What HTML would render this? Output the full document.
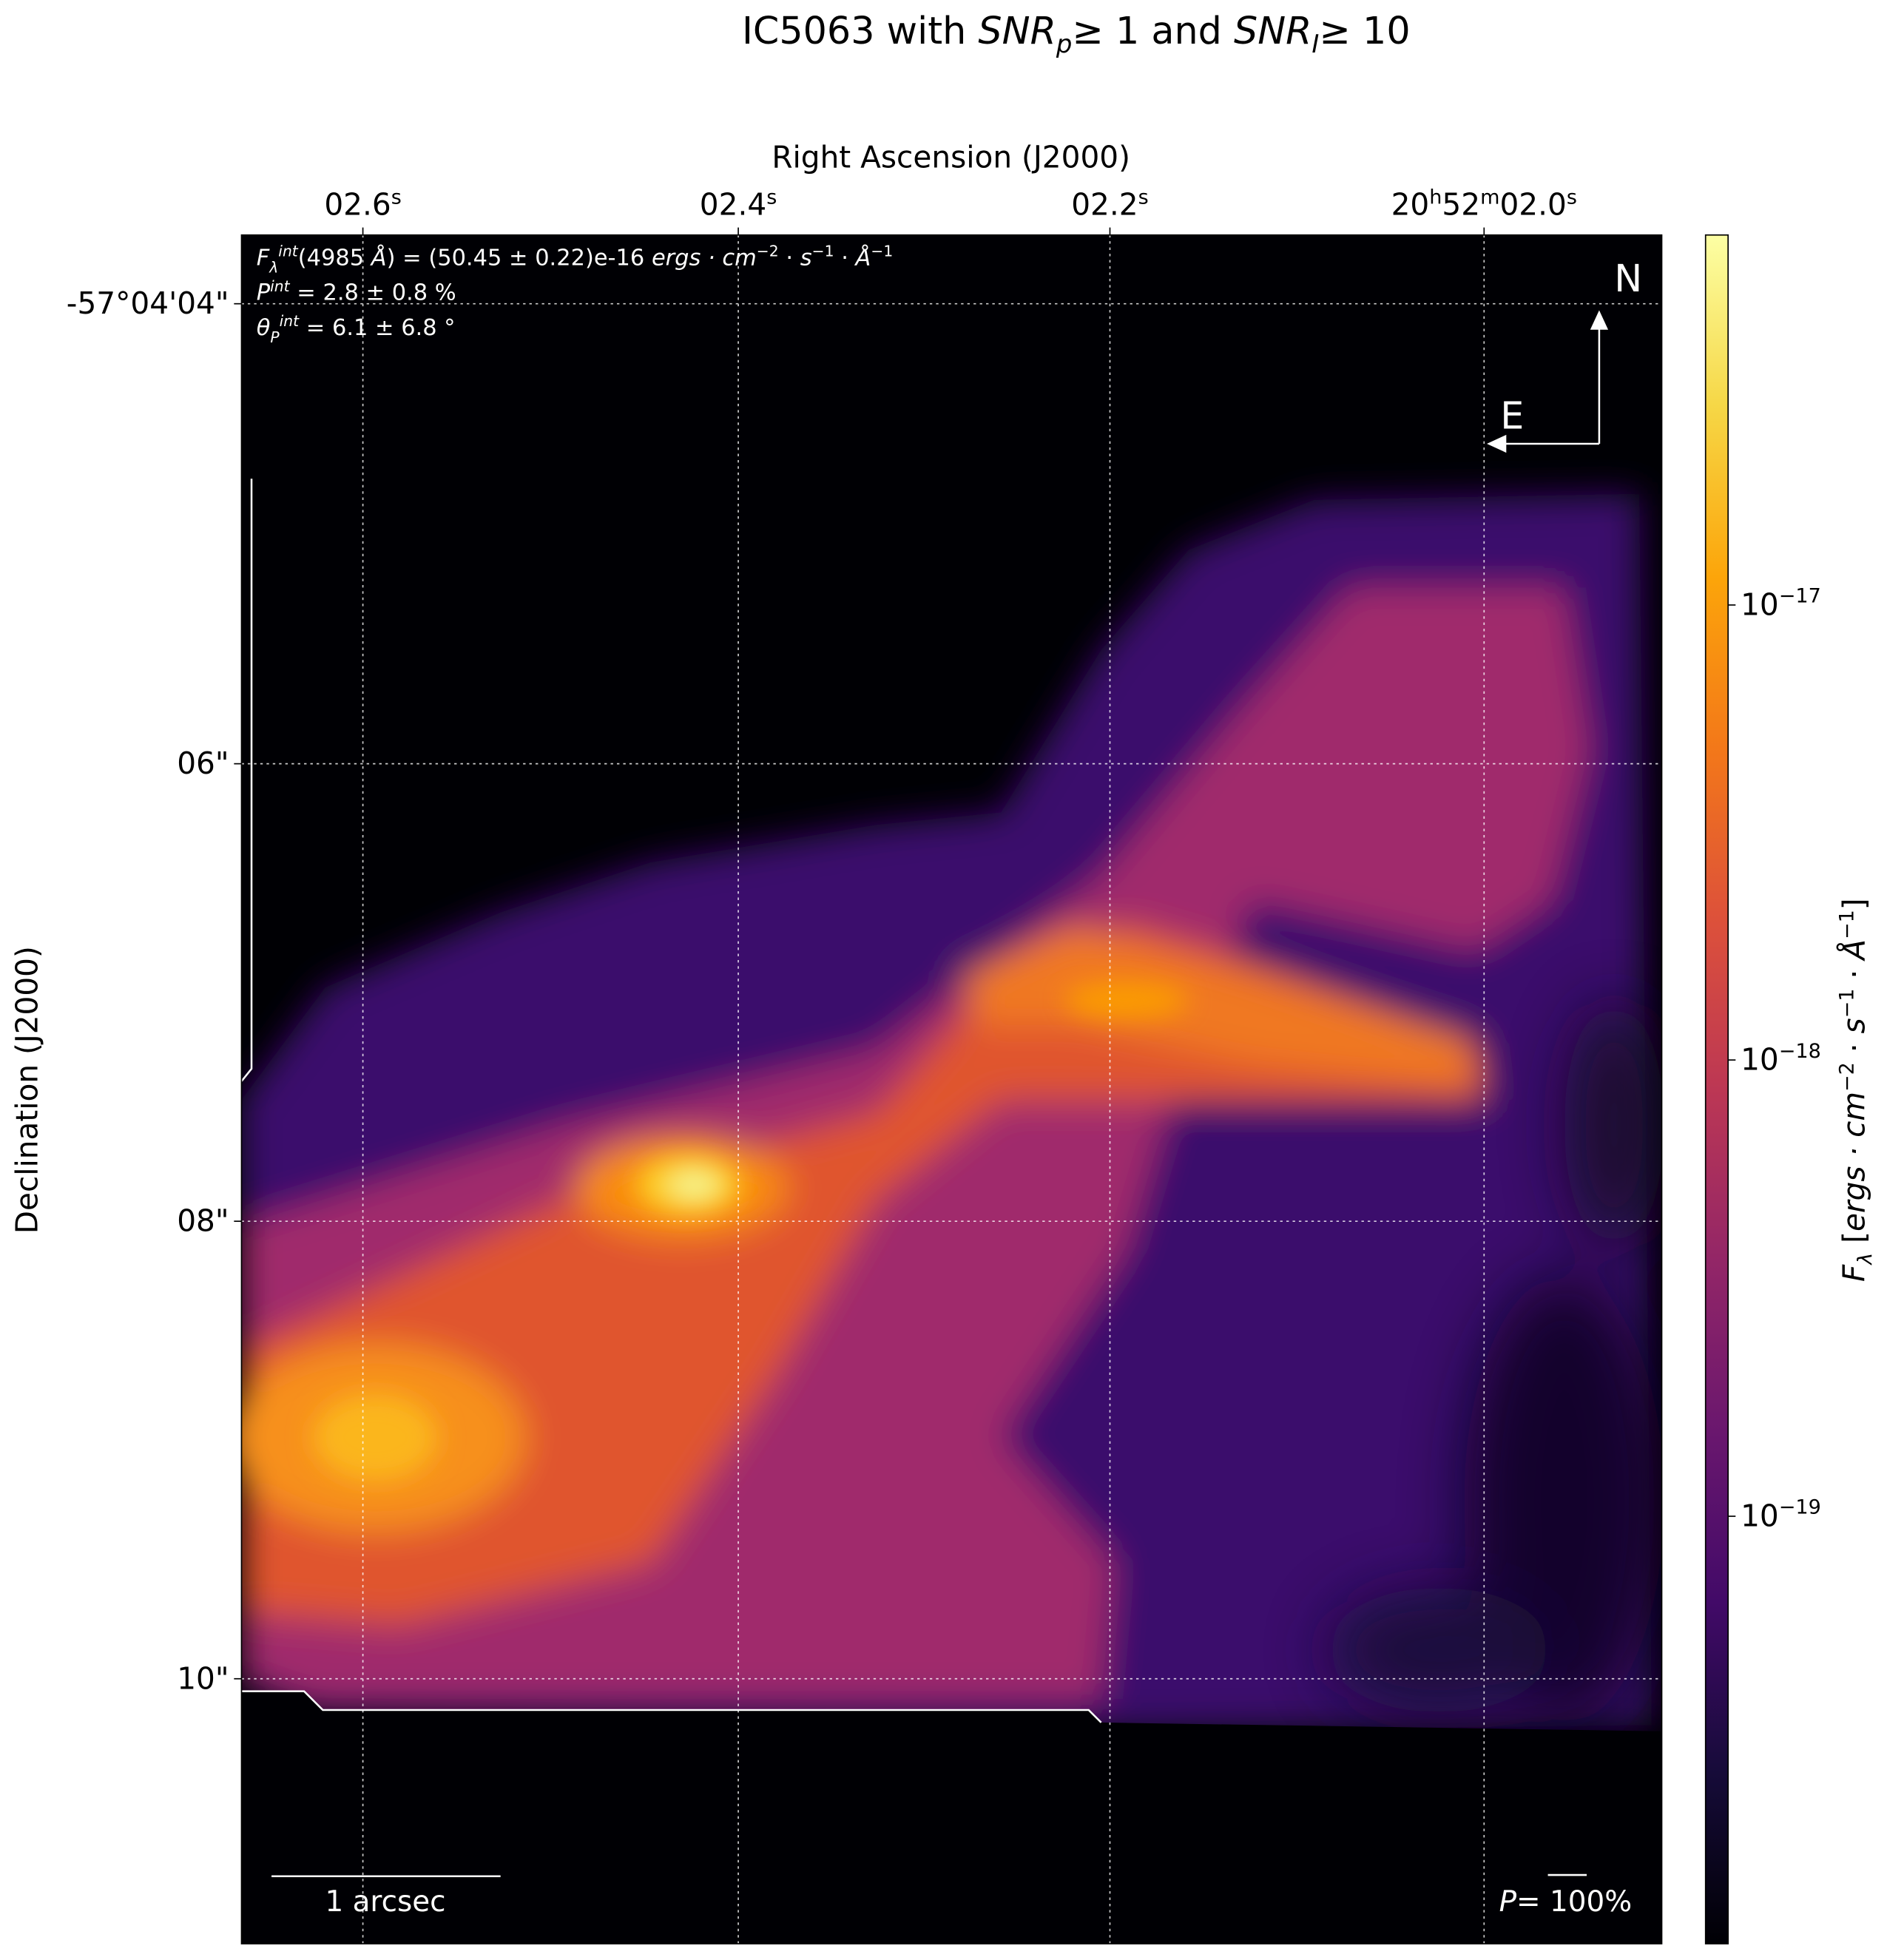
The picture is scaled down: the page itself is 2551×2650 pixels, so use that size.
<!DOCTYPE html>
<html><head><meta charset="utf-8"><style>
html,body{margin:0;padding:0;background:#fff;}
svg{display:block;font-family:"DejaVu Sans","Liberation Sans",sans-serif;}
</style></head><body>
<svg width="2551" height="2650" viewBox="0 0 1508 1568" preserveAspectRatio="none" xmlns="http://www.w3.org/2000/svg">
<defs>
<linearGradient id="inf" x1="0" y1="1" x2="0" y2="0">
<stop offset="0" stop-color="#000004"/><stop offset="0.1" stop-color="#160b39"/><stop offset="0.2" stop-color="#420a68"/><stop offset="0.3" stop-color="#6a176e"/><stop offset="0.4" stop-color="#932667"/><stop offset="0.5" stop-color="#bc3754"/><stop offset="0.6" stop-color="#dd513a"/><stop offset="0.7" stop-color="#f37819"/><stop offset="0.8" stop-color="#fca50a"/><stop offset="0.9" stop-color="#f6d746"/><stop offset="1" stop-color="#fcffa4"/>
</linearGradient>
<filter id="b1" x="-20%" y="-20%" width="140%" height="140%"><feGaussianBlur stdDeviation="14"/></filter>
<filter id="b2" x="-50%" y="-50%" width="200%" height="200%"><feGaussianBlur stdDeviation="10"/></filter>
<filter id="b3" x="-50%" y="-50%" width="200%" height="200%"><feGaussianBlur stdDeviation="25"/></filter>
<clipPath id="cp"><rect x="193" y="188" width="1135" height="1367"/></clipPath>
</defs>
<rect x="193" y="188" width="1135" height="1367" fill="#000004"/>
<g clip-path="url(#cp)">
<g filter="url(#b1)">
<polygon fill="#3a0f6c" points="193,880 260,790 400,730 520,690 700,660 800,650 880,520 950,440 1050,400 1310,395 1320,1380 880,1385 250,1372 193,1350"/>
<polygon fill="#a02c6c" points="193,980 450,900 700,840 880,700 990,570 1080,470 1250,470 1270,600 1240,720 1180,760 1000,720 930,900 900,1000 800,1150 890,1250 880,1360 250,1360 193,1340"/>
<polygon fill="#e0552f" points="193,1080 450,960 700,890 780,800 900,740 1000,770 1180,835 1185,880 1000,880 800,880 700,960 620,1100 520,1250 320,1300 193,1290"/>
<polygon fill="#f07820" points="770,780 860,740 1000,780 1170,830 1180,870 1000,850 860,820 780,820"/>
<ellipse cx="300" cy="1150" rx="120" ry="75" fill="#f7901a"/>
<ellipse cx="545" cy="950" rx="85" ry="40" fill="#f98c0a"/>
</g>
<g filter="url(#b3)" opacity="0.85">
<ellipse cx="1250" cy="1200" rx="80" ry="180" fill="#0a0520"/>
<ellipse cx="1290" cy="900" rx="40" ry="100" fill="#120828"/>
<ellipse cx="1150" cy="1320" rx="90" ry="50" fill="#150a35"/>
</g>
<g filter="url(#b2)">
<ellipse cx="300" cy="1150" rx="50" ry="35" fill="#fbb61a"/>
<ellipse cx="550" cy="948" rx="42" ry="24" fill="#fcce25"/>
<ellipse cx="555" cy="948" rx="20" ry="12" fill="#f6f38a"/>
<ellipse cx="900" cy="800" rx="50" ry="15" fill="#fb9b06"/>
</g>
</g>
<polygon fill="#000004" points="193,1353 243,1353 258,1368 870,1368 880,1378 1328,1385 1328,1555 193,1555"/>
<polyline fill="none" stroke="#fff" stroke-width="1.5" points="201,383 201,855 193,865"/>
<polyline fill="none" stroke="#fff" stroke-width="1.5" points="193,1353 243,1353 258,1368 870,1368 880,1378"/>
<g stroke="#fff" stroke-width="1" stroke-dasharray="2,3" opacity="0.8">
<line x1="290" y1="188" x2="290" y2="1555"/><line x1="590" y1="188" x2="590" y2="1555"/><line x1="887" y1="188" x2="887" y2="1555"/><line x1="1186" y1="188" x2="1186" y2="1555"/>
<line x1="193" y1="243" x2="1328" y2="243"/><line x1="193" y1="611" x2="1328" y2="611"/><line x1="193" y1="977" x2="1328" y2="977"/><line x1="193" y1="1343" x2="1328" y2="1343"/>
</g>
<rect x="193" y="188" width="1135" height="1367" fill="none" stroke="#000" stroke-width="1"/>
<g stroke="#000" stroke-width="1">
<line x1="290" y1="188" x2="290" y2="182"/><line x1="590" y1="188" x2="590" y2="182"/><line x1="887" y1="188" x2="887" y2="182"/><line x1="1186" y1="188" x2="1186" y2="182"/>
<line x1="193" y1="243" x2="187" y2="243"/><line x1="193" y1="611" x2="187" y2="611"/><line x1="193" y1="977" x2="187" y2="977"/><line x1="193" y1="1343" x2="187" y2="1343"/>
</g>
<g stroke="#fff" stroke-width="1.5" fill="#fff">
<line x1="1278" y1="355" x2="1278" y2="262"/><polygon points="1272,263 1284,263 1278,250"/>
<line x1="1278" y1="355" x2="1202" y2="355"/><polygon points="1203,349 1203,361 1190,355"/>
<line x1="217" y1="1501" x2="400" y2="1501"/><line x1="1237" y1="1500" x2="1268" y2="1500"/>
</g>
<g fill="#fff" font-size="18">
<text x="205" y="212"><tspan font-style="italic">F</tspan><tspan font-style="italic" font-size="12" dy="6">λ</tspan><tspan font-style="italic" font-size="12" dy="-13">int</tspan><tspan dy="7">(4985 <tspan font-style="italic">Å</tspan>) = (50.45 ± 0.22)e-16 <tspan font-style="italic">ergs · cm</tspan></tspan><tspan font-size="12" dy="-7">−2</tspan><tspan dy="7"> · <tspan font-style="italic">s</tspan></tspan><tspan font-size="12" dy="-7">−1</tspan><tspan dy="7"> · <tspan font-style="italic">Å</tspan></tspan><tspan font-size="12" dy="-7">−1</tspan></text>
<text x="205" y="240"><tspan font-style="italic">P</tspan><tspan font-style="italic" font-size="12" dy="-7">int</tspan><tspan dy="7"> = 2.8 ± 0.8 %</tspan></text>
<text x="205" y="268"><tspan font-style="italic">θ</tspan><tspan font-style="italic" font-size="12" dy="6">P</tspan><tspan font-style="italic" font-size="12" dy="-13">int</tspan><tspan dy="7"> = 6.1 ± 6.8 °</tspan></text>
<text x="1290" y="233" font-size="30">N</text>
<text x="1199" y="343" font-size="30">E</text>
<text x="308" y="1529" font-size="23" text-anchor="middle">1 arcsec</text>
<text x="1198" y="1529" font-size="23"><tspan font-style="italic">P</tspan>= 100%</text>
</g>
<text x="860" y="35" font-size="30" text-anchor="middle">IC5063 with <tspan font-style="italic">SNR</tspan><tspan font-style="italic" font-size="20" dy="7">p</tspan><tspan dy="-7">≥ 1 and </tspan><tspan font-style="italic">SNR</tspan><tspan font-style="italic" font-size="20" dy="7">I</tspan><tspan dy="-7">≥ 10</tspan></text>
<text x="760" y="134" font-size="24" text-anchor="middle">Right Ascension (J2000)</text>
<g font-size="24" text-anchor="middle">
<text x="290" y="172">02.6<tspan font-size="16" dy="-9">s</tspan></text>
<text x="590" y="172">02.4<tspan font-size="16" dy="-9">s</tspan></text>
<text x="887" y="172">02.2<tspan font-size="16" dy="-9">s</tspan></text>
<text x="1186" y="172">20<tspan font-size="16" dy="-9">h</tspan><tspan dy="9">52</tspan><tspan font-size="16" dy="-9">m</tspan><tspan dy="9">02.0</tspan><tspan font-size="16" dy="-9">s</tspan></text>
</g>
<g font-size="24" text-anchor="end">
<text x="183" y="251">-57°04'04"</text><text x="183" y="619">06"</text><text x="183" y="985">08"</text><text x="183" y="1351">10"</text>
</g>
<text transform="translate(30,872) rotate(-90)" font-size="24" text-anchor="middle">Declination (J2000)</text>
<rect x="1363" y="188" width="18" height="1367" fill="url(#inf)" stroke="#000" stroke-width="1"/>
<g stroke="#000" stroke-width="1"><line x1="1381" y1="484" x2="1387" y2="484"/><line x1="1381" y1="848" x2="1387" y2="848"/><line x1="1381" y1="1213" x2="1387" y2="1213"/></g>
<g font-size="24">
<text x="1391" y="492">10<tspan font-size="16" dy="-10">−17</tspan></text>
<text x="1391" y="856">10<tspan font-size="16" dy="-10">−18</tspan></text>
<text x="1391" y="1221">10<tspan font-size="16" dy="-10">−19</tspan></text>
</g>
<text transform="translate(1490,872) rotate(-90)" font-size="24" text-anchor="middle"><tspan font-style="italic">F</tspan><tspan font-style="italic" font-size="16" dy="6">λ</tspan><tspan dy="-6"> [</tspan><tspan font-style="italic">ergs · cm</tspan><tspan font-size="16" dy="-9">−2</tspan><tspan dy="9"> · </tspan><tspan font-style="italic">s</tspan><tspan font-size="16" dy="-9">−1</tspan><tspan dy="9"> · </tspan><tspan font-style="italic">Å</tspan><tspan font-size="16" dy="-9">−1</tspan><tspan dy="9">]</tspan></text>
</svg>
</body></html>
